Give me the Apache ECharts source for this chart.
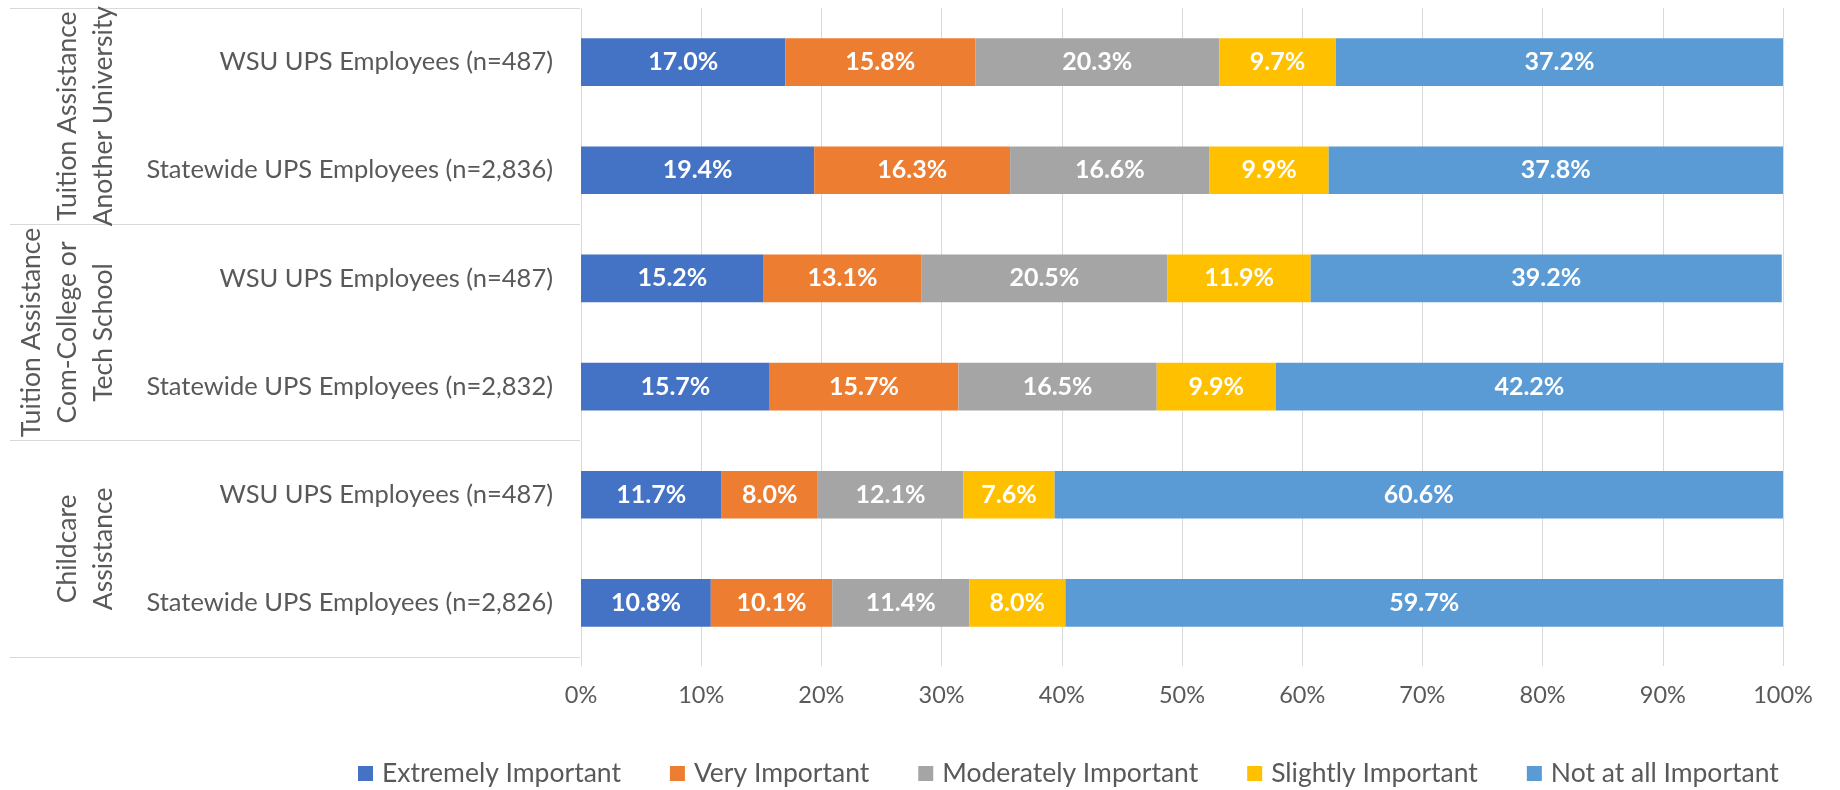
<!DOCTYPE html>
<html>
<head>
<meta charset="utf-8">
<script src="https://cdn.jsdelivr.net/npm/echarts@6/dist/echarts.min.js"></script>
<style>html,body{margin:0;padding:0;background:#fff;}#chart{width:1840px;height:790px;}</style>
</head>
<body>
<div id="chart"></div>
<script>
var categories = [
  'WSU UPS Employees (n=487)',
  'Statewide UPS Employees (n=2,836)',
  'WSU UPS Employees (n=487)',
  'Statewide UPS Employees (n=2,832)',
  'WSU UPS Employees (n=487)',
  'Statewide UPS Employees (n=2,826)'
];
var groups = [
  'Tuition Assistance\nAnother University',
  'Tuition Assistance\nCom-College or\nTech School',
  'Childcare\nAssistance'
];
var seriesNames = ['Extremely Important', 'Very Important', 'Moderately Important', 'Slightly Important', 'Not at all Important'];
var extremely = [17.0, 19.4, 15.2, 15.7, 11.7, 10.8];
var very = [15.8, 16.3, 13.1, 15.7, 8.0, 10.1];
var moderately = [20.3, 16.6, 20.5, 16.5, 12.1, 11.4];
var slightly = [9.7, 9.9, 11.9, 9.9, 7.6, 8.0];
var notAtAll = [37.2, 37.8, 39.2, 42.2, 60.6, 59.7];
var xTicks = [0, 10, 20, 30, 40, 50, 60, 70, 80, 90, 100];

var colors = ['#4472C4', '#ED7D31', '#A5A5A5', '#FFC000', '#5B9BD5'];
var values = [extremely, very, moderately, slightly, notAtAll];
var FONT = 'Lato';

var chart = echarts.init(document.getElementById('chart'));
var series = seriesNames.map(function (name, i) {
  return {
    name: name,
    type: 'bar',
    stack: 'total',
    yAxisIndex: 0,
    barCategoryGap: '56%',
    itemStyle: { color: colors[i] },
    label: {
      show: true,
      position: 'inside',
      color: '#ffffff',
      fontWeight: 'bold',
      fontFamily: FONT,
      fontSize: 25,
      formatter: function (p) { return p.value.toFixed(1) + '%'; }
    },
    emphasis: { disabled: true },
    data: values[i]
  };
});

chart.setOption({
  animation: false,
  color: colors,
  grid: { left: 581, right: 57, top: 8, bottom: 133, containLabel: false },
  xAxis: {
    type: 'value',
    min: xTicks[0],
    max: xTicks[xTicks.length - 1],
    interval: xTicks[1] - xTicks[0],
    axisLine: { show: false },
    axisTick: { show: true, length: 9, lineStyle: { color: '#d9d9d9', width: 1 } },
    splitLine: { show: true, lineStyle: { color: '#d9d9d9', width: 1 } },
    axisLabel: { formatter: '{value}%', color: '#595959', fontFamily: FONT, fontSize: 23.5, margin: 26 }
  },
  yAxis: [
    {
      type: 'category',
      data: categories,
      inverse: true,
      position: 'left',
      axisLine: { show: true, lineStyle: { color: '#d9d9d9', width: 1 } },
      axisTick: { show: false },
      axisLabel: { color: '#595959', fontFamily: FONT, fontSize: 25.5, margin: 28, interval: 0 }
    },
    {
      type: 'category',
      data: groups,
      inverse: true,
      position: 'left',
      offset: 571,
      axisLine: { show: false },
      axisTick: { show: true, inside: true, length: 570, lineStyle: { color: '#d9d9d9', width: 1 } },
      splitLine: { show: false },
      axisLabel: {
        inside: true, rotate: 90, margin: 111, interval: 0,
        align: 'center', verticalAlign: 'bottom', lineHeight: 36,
        color: '#595959', fontFamily: FONT, fontSize: 26.5
      }
    }
  ],
  legend: {
    data: seriesNames,
    left: 358,
    top: 760,
    padding: 0,
    icon: 'rect',
    itemWidth: 15,
    itemHeight: 15,
    itemGap: 49,
    textStyle: { color: '#595959', fontFamily: FONT, fontSize: 26.5, padding: [0, 0, 0, 4] },
    selectedMode: false
  },
  series: series
});
</script>
</body>
</html>
